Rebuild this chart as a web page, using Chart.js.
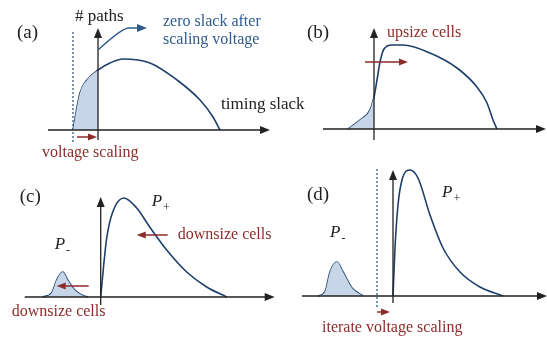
<!DOCTYPE html>
<html>
<head>
<meta charset="utf-8">
<script src="https://cdn.jsdelivr.net/npm/chart.js"></script>
<style>
html, body { margin: 0; padding: 0; background: #fff; }
#wrap { position: relative; width: 547px; height: 337px; overflow: hidden; }
#wrap canvas { position: absolute; }
</style>
</head>
<body>
<div id="wrap">
  <canvas id="cA"></canvas>
  <canvas id="cB"></canvas>
  <canvas id="cC"></canvas>
  <canvas id="cD"></canvas>
</div>
<script>
// path-count curves, [slack, paths] (y-axis at slack 0)
const curveA = [[-2.5,0],[-1.8,3.7],[-1.1,5.0],[0,6.0],[1.2,6.7],[2.5,7.1],[5.2,6.7],[7.9,5.0],[10.2,3.0],[11.5,1.3],[12.2,0]];
const curveB = [[-2.6,0],[-1.4,0.9],[-0.4,1.9],[0,3.2],[0.3,4.9],[0.6,6.7],[1.0,8.0],[1.8,8.4],[2.9,8.4],[5.6,7.6],[8.3,6.1],[10.3,4.2],[11.3,2.6],[11.9,0.9],[12.3,0]];
const bigC = [[0,0],[0.3,3.2],[0.6,5.9],[1.2,8.5],[2.3,9.9],[3.6,8.9],[4.9,7.0],[6.6,4.7],[8.6,2.5],[10.6,1.0],[12.6,0]];
const smallC = [[-5.8,0],[-4.9,0.4],[-4.4,1.7],[-3.8,2.5],[-3.3,1.7],[-2.6,0.7],[-1.9,0.2],[-1.3,0]];
const bigD = [[0,0],[0.2,4.8],[0.5,9.1],[0.9,11.6],[1.7,12.6],[2.5,11.8],[3.7,8.1],[5.0,4.8],[6.7,2.4],[8.7,0.9],[11.0,0]];
const smallD = [[-7.5,0],[-6.8,0.4],[-6.3,2.4],[-5.6,3.4],[-5.0,2.4],[-4.1,0.8],[-3.0,0]];
// dotted "voltage scaling" markers
const dashA = [[-2.5,-1.2],[-2.5,10.0]];
const dashD = [[-1.6,-1.1],[-1.6,12.8]];
// axis extents [from, to]
const axesX = { A: [-5.0, 17.2], B: [-5.1, 17.2], C: [-7.6, 17.4], D: [-9.1, 15.4] };
const axesY = { A: [-1.0, 10.2], B: [-1.1, 10.1], C: [-0.8, 10.0], D: [-0.7, 12.6] };

const NAVY = '#1d3f6c';
const FILL = '#c6d5e7';
const RED = '#8c2d2b';
const BLUE = '#2f5b8c';
const INK = '#222';
const SERIF = '"Liberation Serif", "Times New Roman", serif';

const pts = arr => arr.map(([x, y]) => ({ x, y }));
const leftOfAxis = arr => arr.filter(p => p[0] <= 0);

function curve(arr) {
  return { data: pts(arr), borderColor: NAVY, borderWidth: 1.6, pointRadius: 0, fill: false,
           cubicInterpolationMode: 'monotone', clip: false };
}
function shaded(arr) {
  return { data: pts(arr), borderWidth: 0, borderColor: 'rgba(0,0,0,0)', backgroundColor: FILL,
           pointRadius: 0, fill: 'origin', cubicInterpolationMode: 'monotone', clip: false };
}
function dotted(arr) {
  return { data: pts(arr), borderColor: BLUE, borderWidth: 1.3, borderDash: [2, 2], pointRadius: 0,
           fill: false, tension: 0, clip: false };
}

function arrowHead(ctx, x0, y0, x1, y1, len, half, color) {
  const a = Math.atan2(y1 - y0, x1 - x0);
  ctx.fillStyle = color;
  ctx.beginPath();
  ctx.moveTo(x1, y1);
  ctx.lineTo(x1 - len * Math.cos(a) + half * Math.sin(a), y1 - len * Math.sin(a) - half * Math.cos(a));
  ctx.lineTo(x1 - len * Math.cos(a) - half * Math.sin(a), y1 - len * Math.sin(a) + half * Math.cos(a));
  ctx.closePath();
  ctx.fill();
}

const extras = {
  id: 'extras',
  afterDatasetsDraw(chart, args, o) {
    const { ctx } = chart;
    const X = v => chart.scales.x.getPixelForValue(v);
    const Y = v => chart.scales.y.getPixelForValue(v);
    ctx.save();
    // axes
    ctx.strokeStyle = INK; ctx.lineWidth = 1.3;
    ctx.beginPath();
    ctx.moveTo(X(o.ax[0]), Y(0)); ctx.lineTo(X(o.ax[1]) - 6, Y(0));
    ctx.moveTo(X(0), Y(o.ay[0])); ctx.lineTo(X(0), Y(o.ay[1]) + 6);
    ctx.stroke();
    arrowHead(ctx, X(o.ax[0]), Y(0), X(o.ax[1]), Y(0), 10, 4, INK);
    arrowHead(ctx, X(0), Y(o.ay[0]), X(0), Y(o.ay[1]), 10, 4, INK);
    // red arrows
    (o.arrows || []).forEach(a => {
      const x0 = X(a[0]), y0 = Y(a[1]), x1 = X(a[2]), y1 = Y(a[3]);
      const d = x1 > x0 ? -5 : 5;
      ctx.strokeStyle = RED; ctx.lineWidth = 1.5;
      ctx.beginPath(); ctx.moveTo(x0, y0); ctx.lineTo(x1 + d, y1); ctx.stroke();
      arrowHead(ctx, x0, y0, x1, y1, 9, 3.5, RED);
    });
    // callout arrow
    if (o.callout) {
      const c = o.callout;
      ctx.strokeStyle = BLUE; ctx.lineWidth = 1.3;
      ctx.beginPath();
      ctx.moveTo(X(c[0][0]), Y(c[0][1]));
      ctx.quadraticCurveTo(X(c[1][0]) - 3, Y(c[1][1]), X(c[1][0]) + 4, Y(c[1][1]));
      ctx.lineTo(X(c[2][0]) - 6, Y(c[2][1]));
      ctx.stroke();
      arrowHead(ctx, X(c[1][0]), Y(c[1][1]), X(c[2][0]), Y(c[2][1]), 10, 4, BLUE);
    }
    // labels
    ctx.textBaseline = 'middle'; ctx.textAlign = 'left';
    (o.texts || []).forEach(t => {
      ctx.fillStyle = t.color || INK;
      ctx.font = (t.italic ? 'italic ' : '') + (t.size || 17) + 'px ' + SERIF;
      const px = X(t.x), py = Y(t.y);
      ctx.fillText(t.text, px, py);
      if (t.sub) {
        const w = ctx.measureText(t.text).width;
        ctx.font = '12px ' + SERIF;
        ctx.fillText(t.sub, px + w + 1, py + 6);
      }
    });
    ctx.restore();
  }
};

// 10 px per unit on both axes; box = [left, top, width, height, originX, originY] in page pixels
function panel(id, box, datasets, opts) {
  const [left, top, w, h, ox, oy] = box;
  const cv = document.getElementById(id);
  cv.width = w; cv.height = h;
  cv.style.left = left + 'px'; cv.style.top = top + 'px';
  const cx = ox - left, cy = oy - top;
  return new Chart(cv, {
    type: 'line',
    data: { datasets },
    options: {
      responsive: false, animation: false, devicePixelRatio: 1,
      layout: { padding: 0 },
      scales: {
        x: { type: 'linear', display: false, min: -cx / 10, max: (w - cx) / 10 },
        y: { type: 'linear', display: false, min: -(h - cy) / 10, max: cy / 10 }
      },
      plugins: { legend: { display: false }, tooltip: { enabled: false }, extras: opts }
    },
    plugins: [extras]
  });
}

panel('cA', [0, 0, 320, 165, 98, 130],
  [shaded(leftOfAxis(curveA)), curve(curveA), dotted(dashA)],
  { ax: axesX.A, ay: axesY.A,
    arrows: [[-2.1, -0.7, -0.1, -0.7]],
    callout: [[0, 8.0], [2.7, 10.2], [4.9, 10.2]],
    texts: [
      { text: '(a)', x: -8.1, y: 9.7, size: 19 },
      { text: '# paths', x: -2.3, y: 11.3 },
      { text: 'zero slack after', x: 6.5, y: 10.8, color: BLUE, size: 16 },
      { text: 'scaling voltage', x: 6.5, y: 9.0, color: BLUE, size: 16 },
      { text: 'timing slack', x: 12.3, y: 2.5 },
      { text: 'voltage scaling', x: -5.6, y: -2.3, color: RED, size: 16 }
    ] });

panel('cB', [275, 0, 272, 165, 374, 129],
  [shaded(leftOfAxis(curveB)), curve(curveB)],
  { ax: axesX.B, ay: axesY.B,
    arrows: [[-0.9, 6.7, 3.4, 6.7]],
    texts: [
      { text: '(b)', x: -6.7, y: 9.6, size: 19 },
      { text: 'upsize cells', x: 1.3, y: 9.6, color: RED, size: 16 }
    ] });

panel('cC', [0, 165, 275, 172, 100.7, 297],
  [shaded(smallC), curve(smallC), curve(bigC)],
  { ax: axesX.C, ay: axesY.C,
    arrows: [[-1.2, 1.1, -4.4, 1.1], [6.7, 6.2, 3.6, 6.2]],
    texts: [
      { text: '(c)', x: -8.1, y: 10.0, size: 19 },
      { text: 'P', sub: '-', x: -4.6, y: 5.2, italic: true },
      { text: 'P', sub: '+', x: 5.1, y: 9.5, italic: true },
      { text: 'downsize cells', x: 7.7, y: 6.2, color: RED, size: 16 },
      { text: 'downsize cells', x: -8.9, y: -1.5, color: RED, size: 16 }
    ] });

panel('cD', [275, 165, 272, 172, 393, 296],
  [shaded(smallD), curve(smallD), curve(bigD), dotted(dashD)],
  { ax: axesX.D, ay: axesY.D,
    arrows: [[-1.6, -1.6, -0.3, -1.6]],
    texts: [
      { text: '(d)', x: -8.6, y: 10.1, size: 19 },
      { text: 'P', sub: '-', x: -6.3, y: 6.3, italic: true },
      { text: 'P', sub: '+', x: 4.9, y: 10.3, italic: true },
      { text: 'iterate voltage scaling', x: -7.1, y: -3.2, color: RED, size: 16 }
    ] });
</script>
</body>
</html>
